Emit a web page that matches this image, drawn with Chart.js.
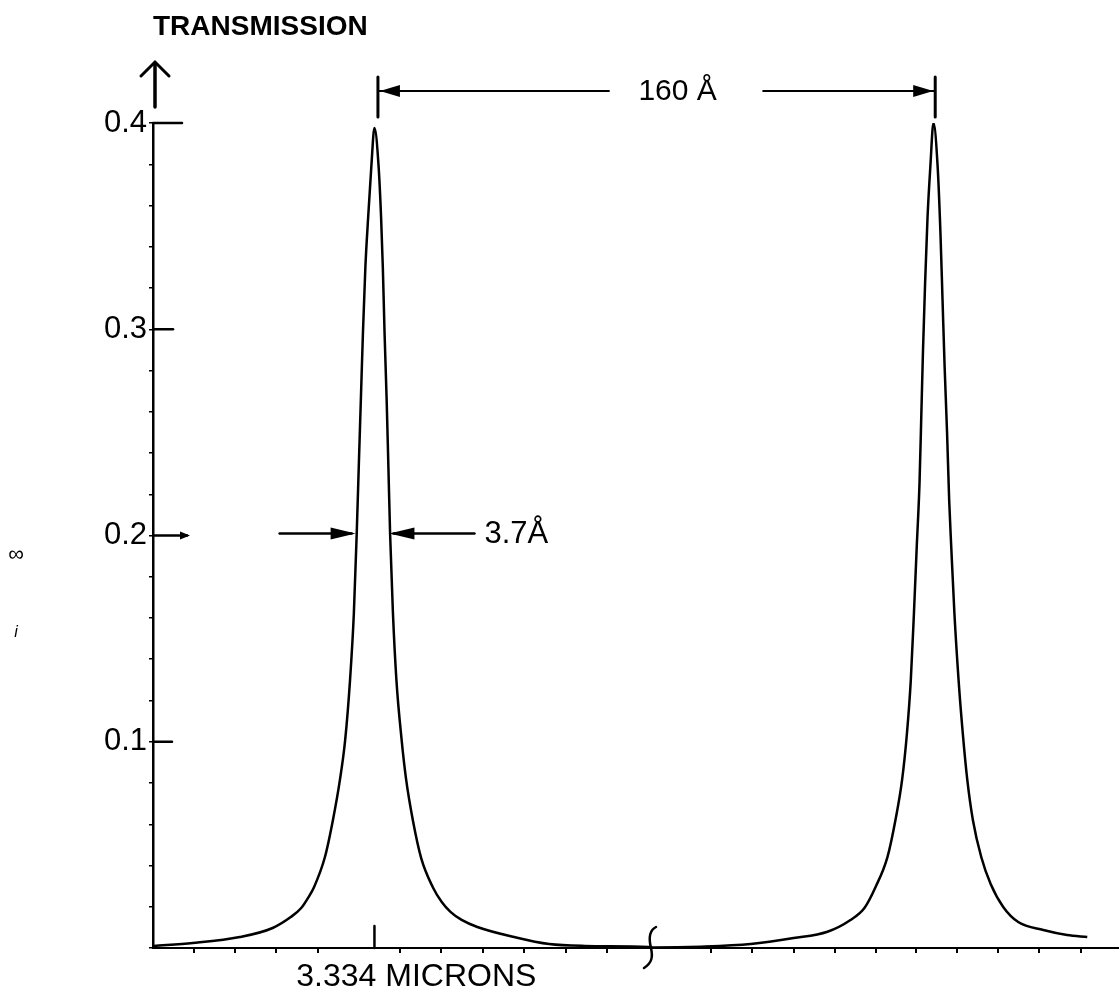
<!DOCTYPE html>
<html>
<head>
<meta charset="utf-8">
<script src="https://cdn.jsdelivr.net/npm/chart.js@4"></script>
<style>
  html, body { margin: 0; padding: 0; background: #fff; }
  canvas { display: block; }
</style>
</head>
<body>
<canvas id="transChart" width="1119" height="996"></canvas>
<script>
// wavelength offset from 3.334 microns (angstroms) and transmission
const peak1Offsets = [-63.3, -52.1, -38.6, -29.2, -24.0, -21.0, -18.9, -17.3, -14.2, -11.9, -9.9, -8.4, -7.0, -5.9, -5.1, -4.5, -3.9, -3.3, -2.6, -1.8, -0.9, 0,
  1.2, 1.9, 2.4, 2.9, 3.5, 4.0, 4.5, 5.3, 6.3, 7.8, 9.1, 11.0, 13.4, 16.7, 19.3, 21.8, 25.0, 29.5, 40.1, 50.1, 60.4, 78.7];
const peak1Trans = [0.001, 0.0024, 0.0053, 0.0097, 0.015, 0.0194, 0.0247, 0.0296, 0.0441, 0.0621, 0.0815, 0.1008, 0.1299, 0.1624, 0.2002, 0.2332, 0.2657, 0.2982, 0.3302, 0.3544, 0.3787, 0.3976,
  0.3787, 0.3544, 0.3302, 0.2982, 0.2657, 0.2332, 0.2002, 0.1624, 0.1299, 0.1008, 0.0815, 0.0621, 0.0436, 0.0296, 0.0223, 0.0175, 0.0136, 0.0102, 0.0053, 0.0019, 0.001, 0.0005];
const peak2Offsets = [80.1, 93.6, 107.9, 120.2, 129.9, 136.5, 140.5, 143.7, 147.1, 149.4, 151.3, 152.7, 153.8, 154.7, 155.5, 156.3, 156.8, 157.3, 157.9, 158.6, 159.4, 160.3,
  161.5, 162.3, 162.9, 163.5, 164.2, 164.8, 165.4, 166.3, 167.5, 168.7, 170.0, 171.6, 174.0, 176.7, 180.3, 184.6, 191.8, 198.6, 204.4];
const peak2Trans = [0.0002, 0.0006, 0.0019, 0.0048, 0.0079, 0.0136, 0.0194, 0.0296, 0.0441, 0.0621, 0.0815, 0.1042, 0.1299, 0.1624, 0.1944, 0.2255, 0.2575, 0.2899, 0.3224, 0.3544, 0.3787, 0.4,
  0.3787, 0.3467, 0.3142, 0.2817, 0.2497, 0.2172, 0.1944, 0.1624, 0.1299, 0.1042, 0.0815, 0.0621, 0.0441, 0.031, 0.0199, 0.0126, 0.0087, 0.0063, 0.0053];

const yLabelValues = [0.1, 0.2, 0.3, 0.4];
const xTickOffsets = [-51.7, -40, -28.3, -16.3, 7.3, 19.2, 31.2, 42.9, 54.8, 66.7, 96.5, 108.3, 120.2, 132, 143.7, 155.4, 167.1, 178.9, 190.6, 202.6];

const peakSpacing = [1, 160.8];      // the 160 A bracket
const halfWidthAt = 0.2;             // the 3.7 A width arrows
const halfWidthEdges = [-5.4, 4.3];
const breakAt = 79.3;

const FONT = '"Liberation Sans", Arial, sans-serif';

const trace = peak1Offsets.map((x, i) => ({ x: x, y: peak1Trans[i] }))
  .concat(peak2Offsets.map((x, i) => ({ x: x, y: peak2Trans[i] })));

function seg(ctx, x1, y1, x2, y2, w) {
  ctx.lineWidth = w;
  ctx.beginPath();
  ctx.moveTo(x1, y1);
  ctx.lineTo(x2, y2);
  ctx.stroke();
}

function head(ctx, tipX, tipY, dir, len, half) {
  ctx.beginPath();
  ctx.moveTo(tipX, tipY);
  ctx.lineTo(tipX - dir * len, tipY - half);
  ctx.lineTo(tipX - dir * len, tipY + half);
  ctx.closePath();
  ctx.fill();
}

const sketchMarks = {
  id: 'sketchMarks',
  afterDraw(chart) {
    const { ctx, chartArea: area, scales: { x, y } } = chart;
    const ax = area.left;
    ctx.save();
    ctx.strokeStyle = '#000';
    ctx.fillStyle = '#000';
    ctx.lineCap = 'round';

    // title and up arrow
    ctx.font = 'bold 28px ' + FONT;
    ctx.textAlign = 'left';
    ctx.textBaseline = 'middle';
    ctx.fillText('TRANSMISSION', ax, area.top - 96);
    seg(ctx, ax + 2, area.top - 16, ax + 2, area.top - 60, 3.5);
    ctx.lineWidth = 3;
    ctx.beginPath();
    ctx.moveTo(ax - 12, area.top - 47);
    ctx.lineTo(ax + 2, area.top - 61);
    ctx.lineTo(ax + 16, area.top - 47);
    ctx.stroke();

    // major tick stubs pointing into the plot
    const stubLen = { 0.1: 19, 0.2: 34, 0.3: 20, 0.4: 29 };
    yLabelValues.forEach(v => {
      const py = y.getPixelForValue(v);
      seg(ctx, ax, py, ax + stubLen[v], py, 2.5);
    });
    head(ctx, ax + 37, y.getPixelForValue(0.2), 1, 10, 4);

    // 160 A bracket
    const bx1 = x.getPixelForValue(peakSpacing[0]);
    const bx2 = x.getPixelForValue(peakSpacing[1]);
    const by = area.top - 32;
    seg(ctx, bx1, area.top - 46, bx1, area.top - 6, 3);
    seg(ctx, bx2, area.top - 46, bx2, area.top - 6, 3);
    seg(ctx, bx1, by, bx1 + 231, by, 2);
    seg(ctx, bx2 - 172, by, bx2, by, 2);
    head(ctx, bx1 + 2, by, -1, 20, 6);
    head(ctx, bx2 - 2, by, 1, 20, 6);
    ctx.font = '30px ' + FONT;
    ctx.textAlign = 'center';
    ctx.fillText('160 Å', (bx1 + bx2) / 2 + 21, by + 1);

    // half width arrows
    const hy = y.getPixelForValue(halfWidthAt) - 2;
    const hl = x.getPixelForValue(halfWidthEdges[0]);
    const hr = x.getPixelForValue(halfWidthEdges[1]);
    seg(ctx, hl - 76, hy, hl - 4, hy, 2.5);
    head(ctx, hl, hy, 1, 25, 6);
    seg(ctx, hr + 4, hy, hr + 85, hy, 2.5);
    head(ctx, hr, hy, -1, 25, 6);
    ctx.font = '31px ' + FONT;
    ctx.textAlign = 'left';
    ctx.fillText('3.7Å', hr + 95, hy + 1);

    // peak position marker and wavelength label
    const px0 = x.getPixelForValue(0);
    seg(ctx, px0, area.bottom - 22, px0, area.bottom, 2.5);
    ctx.font = '32px ' + FONT;
    ctx.textAlign = 'center';
    ctx.fillText('3.334 MICRONS', x.getPixelForValue(12), area.bottom + 29);

    // axis break
    const bk = x.getPixelForValue(breakAt);
    ctx.lineWidth = 2.5;
    ctx.beginPath();
    ctx.moveTo(bk + 5, area.bottom - 21);
    ctx.bezierCurveTo(bk - 3, area.bottom - 17, bk - 2, area.bottom - 8, bk, area.bottom);
    ctx.bezierCurveTo(bk + 2, area.bottom + 9, bk + 1, area.bottom + 15, bk - 7, area.bottom + 20);
    ctx.stroke();

    // margin marks of the scan
    ctx.font = '22px ' + FONT;
    ctx.textAlign = 'center';
    ctx.fillText('∞', 16, 555);
    ctx.font = 'italic 16px ' + FONT;
    ctx.fillText('i', 16, 633);
    ctx.restore();
  }
};

new Chart(document.getElementById('transChart').getContext('2d'), {
  type: 'line',
  data: {
    datasets: [{
      label: 'Transmission',
      data: trace,
      borderColor: '#000',
      borderWidth: 2.5,
      pointRadius: 0,
      fill: false,
      cubicInterpolationMode: 'monotone'
    }]
  },
  options: {
    responsive: false,
    devicePixelRatio: 1,
    animation: false,
    layout: { padding: { top: 123, left: 93, right: 0, bottom: 43 } },
    plugins: { legend: { display: false }, tooltip: { enabled: false } },
    scales: {
      x: {
        type: 'linear',
        min: -63.5,
        max: 213.5,
        border: { color: '#000', width: 2 },
        grid: { drawOnChartArea: false, drawTicks: true, tickLength: 5, color: '#000', lineWidth: 2 },
        ticks: { display: false },
        afterBuildTicks: s => { s.ticks = xTickOffsets.map(v => ({ value: v })); }
      },
      y: {
        min: 0,
        max: 0.4,
        border: { color: '#000', width: 2.5 },
        grid: { drawOnChartArea: false, drawTicks: true, tickLength: 4, color: '#000', lineWidth: 1.5 },
        ticks: {
          stepSize: 0.02,
          autoSkip: false,
          padding: 2,
          color: '#000',
          font: { family: FONT, size: 31 },
          callback: v => {
            const r = Math.round(v * 10);
            return Math.abs(v * 10 - r) < 1e-6 && yLabelValues.includes(r / 10) ? (r / 10).toFixed(1) : '';
          }
        },
        afterFit: s => { s.width = 60; }
      }
    }
  },
  plugins: [sketchMarks]
});
</script>
</body>
</html>
